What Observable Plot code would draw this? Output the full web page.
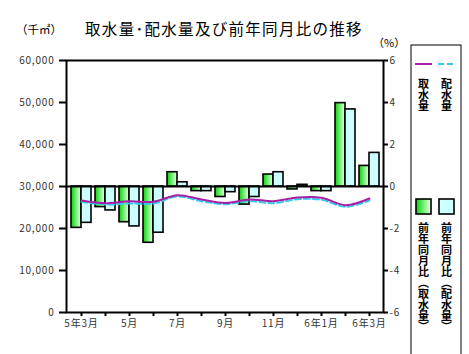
<!DOCTYPE html>
<html><head><meta charset="utf-8">
<script src="https://cdn.jsdelivr.net/npm/d3@7"></script>
<script src="https://cdn.jsdelivr.net/npm/@observablehq/plot@0.6"></script>
<style>
body{margin:0;background:#fff}
#chart svg{font-family:"Noto Sans CJK JP","Noto Sans",sans-serif;}
</style>
</head><body><div id="chart"></div>
<script>
const months = ["5年3月","5年4月","5年5月","5年6月","5年7月","5年8月","5年9月","5年10月","5年11月","5年12月","6年1月","6年2月","6年3月"];
const xLabels = ["5年3月","","5月","","7月","","9月","","11月","","6年1月","","6年3月"];
const intake = [26670, 26020, 26500, 26360, 27930, 26900, 26070, 26900, 26500, 27380, 27310, 25550, 27140];
const distribution = [26360, 25710, 25950, 25950, 27620, 26500, 25790, 26500, 26020, 26980, 26830, 25170, 26670];
const intakeYoY = [-1.97, -0.98, -1.70, -2.68, 0.68, -0.22, -0.50, -0.86, 0.57, -0.14, -0.22, 3.97, 0.98];
const distYoY = [-1.73, -1.14, -1.90, -2.20, 0.20, -0.22, -0.27, -0.50, 0.68, 0.08, -0.22, 3.67, 1.60];
const leftTicks = [0, 10000, 20000, 30000, 40000, 50000, 60000];
const rightTicks = [-6, -4, -2, 0, 2, 4, 6];

// right (%) axis mapped onto left scale: 0% ↔ 30,000, 1% ↔ 5,000
const pct = p => 30000 + p * 5000;

const barData = months.map((m, i) => ({m, a: intakeYoY[i], b: distYoY[i]}));
const lineData = months.map((m, i) => ({m, intake: intake[i], dist: distribution[i]}));

const tickCol = "#333";
const plot = Plot.plot({
  width: 469, height: 354,
  marginLeft: 66, marginRight: 86, marginTop: 60, marginBottom: 42,
  style: {fontSize: "10px", background: "#fff"},
  x: {type: "band", domain: months, paddingInner: 0.18, paddingOuter: 0.09, label: null, axis: null},
  y: {domain: [0, 60000], label: null, axis: null},
  marks: [
    Plot.barY(barData, {x: "m", y1: 30000, y2: d => pct(d.a), fill: "url(#gGreen)", stroke: "#000", strokeWidth: 1.6, insetRight: 10}),
    Plot.barY(barData, {x: "m", y1: 30000, y2: d => pct(d.b), fill: "#ccffff", stroke: "#000", strokeWidth: 1.6, insetLeft: 10}),
    Plot.line(lineData, {x: "m", y: "dist", stroke: "#33ccee", strokeWidth: 2, strokeDasharray: "6,3", curve: "catmull-rom"}),
    Plot.line(lineData, {x: "m", y: "intake", stroke: "#a61fa6", strokeWidth: 2, curve: "catmull-rom"}),
    Plot.ruleY([30000], {stroke: "#000", strokeWidth: 2}),
    Plot.frame({stroke: "#000", strokeWidth: 2}),
    Plot.axisY({anchor: "left", ticks: leftTicks, tickFormat: d3.format(","), tickSize: 7, tickPadding: 5, stroke: "#000", strokeWidth: 2, fill: tickCol, label: null}),
    Plot.axisY({anchor: "right", ticks: rightTicks.map(pct), tickFormat: d => String((d - 30000) / 5000), tickSize: 4, tickPadding: 2, stroke: "#000", strokeWidth: 2, fill: tickCol, label: null}),
    Plot.axisX({ticks: months, tickFormat: d => xLabels[months.indexOf(d)], tickSize: 4, tickPadding: 3, stroke: "#000", strokeWidth: 2, fill: tickCol, label: null})
  ]
});

const svg = d3.select(plot);
svg.selectAll("[aria-label='y-axis tick label'], [aria-label='x-axis tick label']").attr("letter-spacing", "0.8");
const defs = svg.insert("defs", ":first-child");
const g = defs.append("linearGradient").attr("id", "gGreen").attr("x1", "0").attr("y1", "0").attr("x2", "1").attr("y2", "0");
g.append("stop").attr("offset", "0").attr("stop-color", "#11cc11");
g.append("stop").attr("offset", "0.45").attr("stop-color", "#66ee66");
g.append("stop").attr("offset", "1").attr("stop-color", "#f0fff0");

// titles
svg.append("text").attr("x", 224).attr("y", 35).attr("text-anchor", "middle").attr("font-size", 15.5).attr("letter-spacing", 1.3).attr("fill", "#000").text("取水量･配水量及び前年同月比の推移");
svg.append("text").attr("x", 16).attr("y", 34).attr("text-anchor", "start").attr("font-size", 11.5).attr("fill", "#000").text("（千㎥）");
svg.append("text").attr("x", 373).attr("y", 47).attr("text-anchor", "start").attr("font-size", 11).attr("fill", "#000").text("（%）");

// legend
const lg = svg.append("g");
lg.append("rect").attr("x", 411).attr("y", 45).attr("width", 50).attr("height", 330).attr("fill", "#fff").attr("stroke", "#000").attr("stroke-width", 1);
lg.append("line").attr("x1", 415).attr("x2", 432).attr("y1", 64).attr("y2", 64).attr("stroke", "#a61fa6").attr("stroke-width", 2);
lg.append("line").attr("x1", 438).attr("x2", 456).attr("y1", 64).attr("y2", 64).attr("stroke", "#33ccee").attr("stroke-width", 2).attr("stroke-dasharray", "6,3");
lg.append("rect").attr("x", 416).attr("y", 199).attr("width", 15).attr("height", 15).attr("fill", "url(#gGreen)").attr("stroke", "#000").attr("stroke-width", 1.6);
lg.append("rect").attr("x", 439).attr("y", 199).attr("width", 15).attr("height", 15).attr("fill", "#ccffff").attr("stroke", "#000").attr("stroke-width", 1.6);
const vt = (x, y, s) => lg.append("text").attr("x", x).attr("y", y).attr("text-anchor", "start").attr("writing-mode", "vertical-rl").attr("font-size", 11).attr("font-weight", "bold").attr("fill", "#000").text(s);
vt(423.5, 78, "取水量");
vt(446.5, 78, "配水量");
vt(423.5, 222, "前年同月比（取水量）");
vt(446.5, 222, "前年同月比（配水量）");

document.getElementById("chart").appendChild(plot);
</script>
</body></html>
